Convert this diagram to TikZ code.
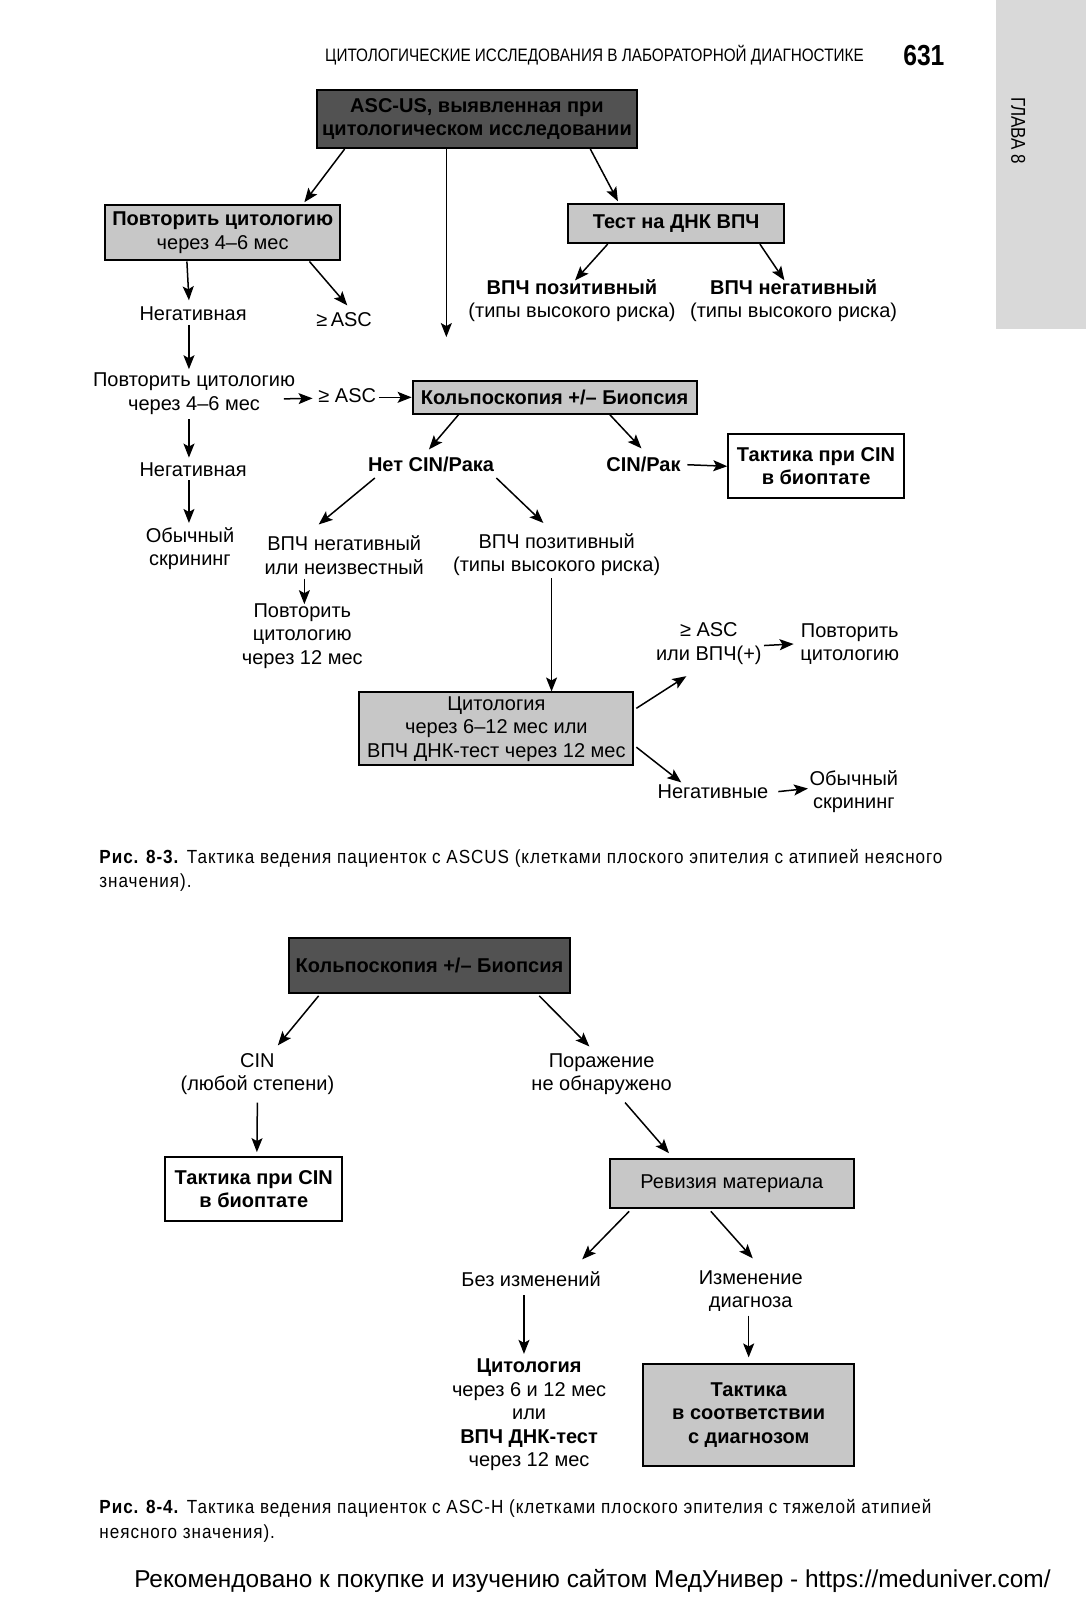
\documentclass[tikz,border=0pt]{standalone}
\usepackage{fontspec}
\setmainfont{Liberation Sans}
\newfontfamily\condfont{Liberation Sans}[FakeStretch=0.85]
\newfontfamily\capfont{Liberation Sans}[FakeStretch=0.9, LetterSpace=5]
\usetikzlibrary{arrows.meta,calc}
\tikzset{arr/.style={line width=0.75pt, -{Stealth[length=7pt,width=5.5pt,inset=1.5pt]}}}
\tikzset{txt/.style={align=center, inner sep=0pt, font=\fontsize{10}{11.75}\selectfont}}
\tikzset{btxt/.style={txt, font=\fontsize{10}{11.75}\selectfont\bfseries}}
\tikzset{lightbox/.style={draw, line width=1pt, fill=black!22}}
\tikzset{darkbox/.style={draw, line width=1pt, fill=black!68}}
\tikzset{whitebox/.style={draw, line width=1pt, fill=white}}

\begin{document}
\begin{tikzpicture}[x=0.5107pt, y=-0.5107pt]
\useasboundingbox (0,0) rectangle (1063.2,1566.5);

% page head
\node [anchor=west, inner sep=0pt, font=\condfont\fontsize{9}{11}\selectfont] (head) at (318,54) {ЦИТОЛОГИЧЕСКИЕ ИССЛЕДОВАНИЯ В ЛАБОРАТОРНОЙ ДИАГНОСТИКЕ};
\node [anchor=west, inner sep=0pt, font=\condfont\fontsize{14.5}{16}\selectfont\bfseries] (page) at (884,54) {631};
\fill [black!15] (975,0) rectangle (1063.2,322);
\node [rotate=-90, inner sep=0pt, font=\condfont\fontsize{10}{11}\selectfont] (tab) at (997,128) {ГЛАВА 8};

% fig. 8-3
\node [btxt, darkbox, minimum width=160pt, minimum height=29.1pt] (asc) at (467,116.5) {ASC-US, выявленная при\\цитологическом исследовании};
\node [btxt, lightbox, minimum width=117.5pt, minimum height=27.6pt] (rep1) at (218,228) {Повторить цитологию\\\mdseries через 4--6 мес};
\node [btxt, lightbox, minimum width=108.3pt, minimum height=19.4pt] (dnk) at (662,219) {Тест на ДНК ВПЧ};
\coordinate (down) at (437,330);
\node [txt] (vpos1) at (560,294.5) {\textbf{ВПЧ позитивный}\\(типы высокого риска)};
\node [txt] (vneg1) at (777,294.5) {\textbf{ВПЧ негативный}\\(типы высокого риска)};
\node [txt] (neg1) at (189,307) {Негативная};
\node [txt] (asc1) at (337,313) {≥\,ASC};
\node [txt] (rep2) at (190,385.5) {Повторить цитологию\\через 4--6 мес};
\node [txt] (asc2) at (340,387) {≥ ASC};
\node [btxt, lightbox, minimum width=142pt, minimum height=16.3pt] (kolpo) at (543,389) {Кольпоскопия +/-- Биопсия};
\node [txt] (neg2) at (189,460) {Негативная};
\node [txt] (obs1) at (186,537) {Обычный\\скрининг};
\node [btxt] (nocin) at (422,455) {Нет CIN/Рака};
\node [btxt] (cinrak) at (630,455) {CIN/Рак};
\node [btxt, whitebox, minimum width=87.8pt, minimum height=32.2pt] (tact1) at (799,456.5) {Тактика при CIN\\в биоптате};
\node [txt] (vneg2) at (337,543.5) {ВПЧ негативный\\или неизвестный};
\node [txt] (vpos2) at (545,543) {ВПЧ позитивный\\(типы высокого риска)};
\node [txt] (rep3) at (296,622.5) {Повторить\\цитологию\\через 12 мес};
\node [txt, lightbox, minimum width=136.9pt, minimum height=36.3pt] (cyto) at (486,713.5) {Цитология\\через 6--12 мес или\\ВПЧ ДНК-тест через 12 мес};
\node [txt] (asc3) at (694,630) {≥ ASC\\или ВПЧ(+)};
\node [txt] (rep4) at (832,630.5) {Повторить\\цитологию};
\node [txt] (negs) at (698,775) {Негативные};
\node [txt] (obs2) at (836,775) {Обычный\\скрининг};

\draw [arr] ($(asc.south west)+(28,0)$) -- ($(rep1.north west)+(196,-2)$);
\draw [arr] ($(asc.south)+(-30,0)$) -- (down);
\draw [arr] ($(asc.south)+(111,0)$) -- ($(dnk.north west)+(50,-2)$);
\draw [arr] ($(dnk.south west)+(40,0)$) -- ($(vpos1)+(3,-20)$);
\draw [arr] ($(dnk.south west)+(189,0)$) -- ($(vneg1)+(-9,-20)$);
\draw [arr] ($(rep1.south west)+(81,0)$) -- ($(neg1)+(-4,-13)$);
\draw [arr] ($(rep1.south west)+(201,0)$) -- ($(asc1)+(3,-14)$);
\draw [arr] ($(neg1)+(-4,11)$) -- ($(rep2)+(-5,-24)$);
\draw [arr] ($(rep2)+(88,5)$) -- ($(asc2)+(-34,3)$);
\draw [arr] ($(asc2)+(31,2)$) -- (kolpo.west);
\draw [arr] ($(rep2)+(-5,25)$) -- ($(neg2)+(-4,-12)$);
\draw [arr] ($(neg2)+(-4,10)$) -- ($(obs1)+(-1,-25)$);
\draw [arr] ($(kolpo.south west)+(46,0)$) -- ($(nocin)+(-2,-15)$);
\draw [arr] ($(kolpo.south west)+(194,0)$) -- ($(cinrak)+(-2,-16)$);
\draw [arr] ($(cinrak)+(43,0)$) -- (tact1.west);
\draw [arr] ($(nocin)+(-55,13)$) -- ($(vneg2)+(-25,-30)$);
\draw [arr] ($(nocin)+(64,13)$) -- ($(vpos2)+(-13,-31)$);
\draw [arr] ($(vneg2)+(-39,23)$) -- ($(rep3)+(2,-31)$);
\draw [arr] ($(vpos2)+(-5,23)$) -- ($(cyto.north)+(54,0)$);
\draw [arr] ($(cyto.east)+(2,-20)$) -- ($(asc3)+(-22,32)$);
\draw [arr] ($(asc3)+(54,2)$) -- ($(rep4)+(-55,0)$);
\draw [arr] ($(cyto.east)+(2,18)$) -- ($(negs)+(-31,-9)$);
\draw [arr] ($(negs)+(64,0)$) -- ($(obs2)+(-45,-3)$);

\node [anchor=west, align=left, inner sep=0pt, font=\capfont\fontsize{9.5}{12.25}\selectfont] (cap1) at (97,852) {\textbf{Рис. 8-3.} Тактика ведения пациенток с ASCUS (клетками плоского эпителия с атипией неясного\\значения).};

% fig. 8-4
\node [btxt, darkbox, minimum width=140.5pt, minimum height=27.6pt] (kolpo2) at (420.5,945) {Кольпоскопия +/-- Биопсия};
\node [txt] (cin) at (252,1051.5) {CIN\\(любой степени)};
\node [txt] (por) at (589,1051.5) {Поражение\\не обнаружено};
\node [btxt, whitebox, minimum width=88.4pt, minimum height=31.7pt] (tact2) at (248.5,1164) {Тактика при CIN\\в биоптате};
\node [txt, lightbox, minimum width=122.1pt, minimum height=24.5pt] (rev) at (716.5,1159) {Ревизия материала};
\node [txt] (bez) at (520,1252) {Без изменений};
\node [txt] (izm) at (735,1264) {Изменение\\диагноза};
\node [txt] (cyto2) at (518,1385.5) {\textbf{Цитология}\\через 6 и 12 мес\\или\\\textbf{ВПЧ ДНК-тест}\\через 12 мес};
\node [btxt, lightbox, minimum width=105.2pt, minimum height=51.1pt] (tact3) at (733,1385) {Тактика\\в соответствии\\с диагнозом};

\draw [arr] ($(kolpo2.south west)+(30,2)$) -- ($(cin)+(20,-28)$);
\draw [arr] ($(kolpo2.south west)+(246,2)$) -- ($(por)+(-12,-27)$);
\draw [arr] ($(cin)+(0,28)$) -- ($(tact2.north)+(3,-4)$);
\draw [arr] ($(por)+(23,28)$) -- ($(rev.north west)+(59,-5)$);
\draw [arr] ($(rev.south west)+(20,2)$) -- ($(bez)+(50,-19)$);
\draw [arr] ($(rev.south west)+(100,2)$) -- ($(izm)+(2,-32)$);
\draw [arr] ($(bez)+(-7,16)$) -- ($(cyto2)+(-5,-60)$);
\draw [arr] ($(izm)+(-2,24)$) -- ($(tact3.north)+(0,-5)$);

\node [anchor=west, align=left, inner sep=0pt, font=\capfont\fontsize{9.5}{12.25}\selectfont] (cap2) at (97,1489) {\textbf{Рис. 8-4.} Тактика ведения пациенток с ASC-H (клетками плоского эпителия с тяжелой атипией\\неясного значения).};

\node [inner sep=0pt, font=\fontsize{12.2}{14}\selectfont] (foot) at (580,1548) {Рекомендовано к покупке и изучению сайтом МедУнивер - https://meduniver.com/};
\end{tikzpicture}
\end{document}
